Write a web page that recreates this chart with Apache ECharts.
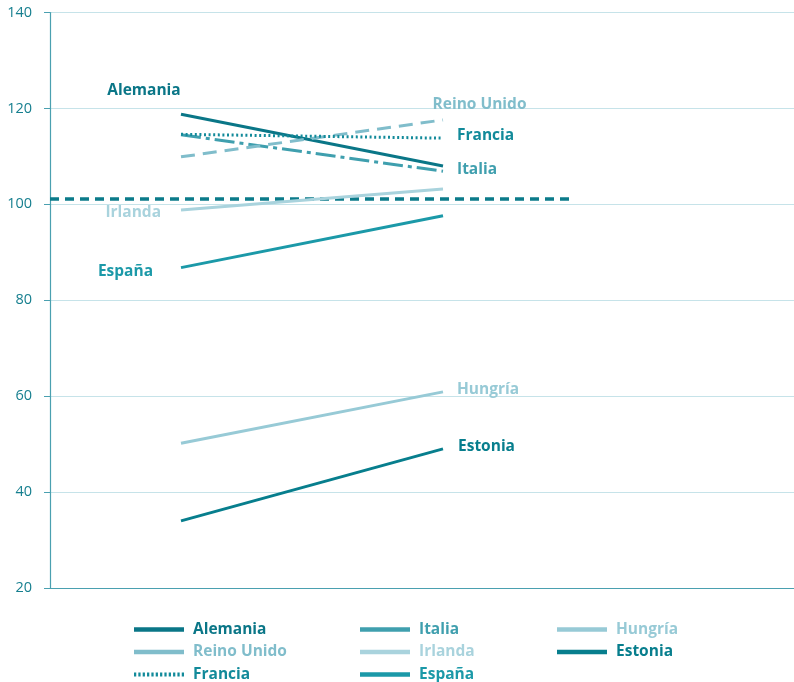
<!DOCTYPE html>
<html><head><meta charset="utf-8">
<script src="https://cdn.jsdelivr.net/npm/echarts@6/dist/echarts.min.js"></script>
<style>html,body{margin:0;padding:0;background:#fff}#c{width:794px;height:682px}</style>
</head><body><div id="c"></div>
<script>
// ---- data ----
const countries = ['Alemania','Italia','Reino Unido','Francia','Irlanda','España','Hungría','Estonia'];
const startValues = [118.8, 114.5, 109.9, 114.6, 98.8, 86.8, 50.2, 34.0];
const endValues   = [108.0, 106.9, 117.6, 113.8, 103.2, 97.6, 60.9, 49.0];
const yTicks = [20, 40, 60, 80, 100, 120, 140];
const referenceValue = 101.1;

// ---- styles ----
const colors = {
  'Alemania':'#0a7687','Italia':'#3f9fae','Reino Unido':'#80bdcb','Francia':'#128a9a',
  'Irlanda':'#a9d3dd','España':'#1b99a8','Hungría':'#97cad6','Estonia':'#077e8d'
};
const dashes = {
  'Italia':[20,5,4,5],'Reino Unido':[14,8],'Francia':[2,2.6]
};
// label: which end, align, offset from point
const labels = {
  'Alemania':   {end:0, align:'center', pos:[-37,-24]},
  'Reino Unido':{end:1, align:'center', pos:[36.5,-15]},
  'Francia':    {end:1, align:'left',   pos:[14,-3]},
  'Italia':     {end:1, align:'left',   pos:[14,-2]},
  'Irlanda':    {end:0, align:'right',  pos:[-20,2]},
  'España':     {end:0, align:'right',  pos:[-28,4]},
  'Hungría':    {end:1, align:'left',   pos:[14,-2]},
  'Estonia':    {end:1, align:'left',   pos:[15,-2]}
};
const xPos = [1, 3];
const FONT = '"Open Sans", "Noto Sans", sans-serif';

const series = countries.map((name, i) => {
  const vals = [startValues[i], endValues[i]];
  const lb = labels[name];
  return {
    name, type: 'line', animation: false,
    showSymbol: true, symbol: 'circle', symbolSize: 0.01,
    itemStyle: {color: colors[name]},
    lineStyle: {color: colors[name], width: 3, type: dashes[name] || 'solid', cap: 'butt'},
    data: vals.map((v, k) => ({
      value: [xPos[k], v],
      label: k === lb.end ? {
        show: true, position: lb.pos, align: lb.align, verticalAlign: 'middle',
        formatter: name, color: colors[name], fontFamily: FONT, fontWeight: 'bold', fontSize: 15.5
      } : {show: false}
    })),
    z: 3
  };
});
series.push({
  name: 'ref', type: 'line', animation: false, symbol: 'none',
  lineStyle: {color: '#0b7b8a', width: 3.5, type: [9, 6]},
  data: [[0, referenceValue], [3.97, referenceValue]], z: 2
});

// dotted legend icon for Francia
let dots = '';
for (let i = 0; i < 12; i++) { const x = i * 4.25; dots += `M${x},0h2.2v4h-2.2z`; }
const dottedIcon = 'path://' + dots;

function legendItem(name) {
  return {name, icon: name === 'Francia' ? dottedIcon : 'rect', textStyle: {color: colors[name]}};
}
const legendCols = [['Alemania','Reino Unido','Francia'], ['Italia','Irlanda','España'], ['Hungría','Estonia']];
const legendLeft = [134, 360, 557];
const legends = legendCols.map((col, j) => ({
  orient: 'vertical', left: legendLeft[j], top: 621.5, height: 61, padding: 0,
  itemWidth: 50, itemHeight: 4.5, itemGap: 6.5,
  selectedMode: false,
  data: col.map(legendItem),
  textStyle: {fontFamily: FONT, fontWeight: 'bold', fontSize: 15.5, lineHeight: 16, padding: [0,0,0,4]}
}));

const chart = echarts.init(document.getElementById('c'), null, {renderer: 'canvas'});
chart.setOption({
  animation: false,
  grid: {left: 50, right: 0, top: 12.5, bottom: 94, containLabel: false},
  xAxis: {
    type: 'value', min: 0, max: 744 / 131,
    axisLine: {show: true, lineStyle: {color: '#4aa0b0', width: 1.2}},
    axisTick: {show: false}, axisLabel: {show: false}, splitLine: {show: false}
  },
  yAxis: {
    type: 'value', min: yTicks[0], max: yTicks[yTicks.length - 1], interval: 20,
    axisLine: {show: true, lineStyle: {color: '#4aa0b0', width: 1.2}},
    axisTick: {show: true, length: 6, lineStyle: {color: '#4aa0b0'}},
    axisLabel: {margin: 18, color: '#167f8f', fontFamily: FONT, fontSize: 14.5},
    splitLine: {show: true, lineStyle: {color: '#c6e3e9', width: 1}}
  },
  legend: legends,
  series
});
</script></body></html>
